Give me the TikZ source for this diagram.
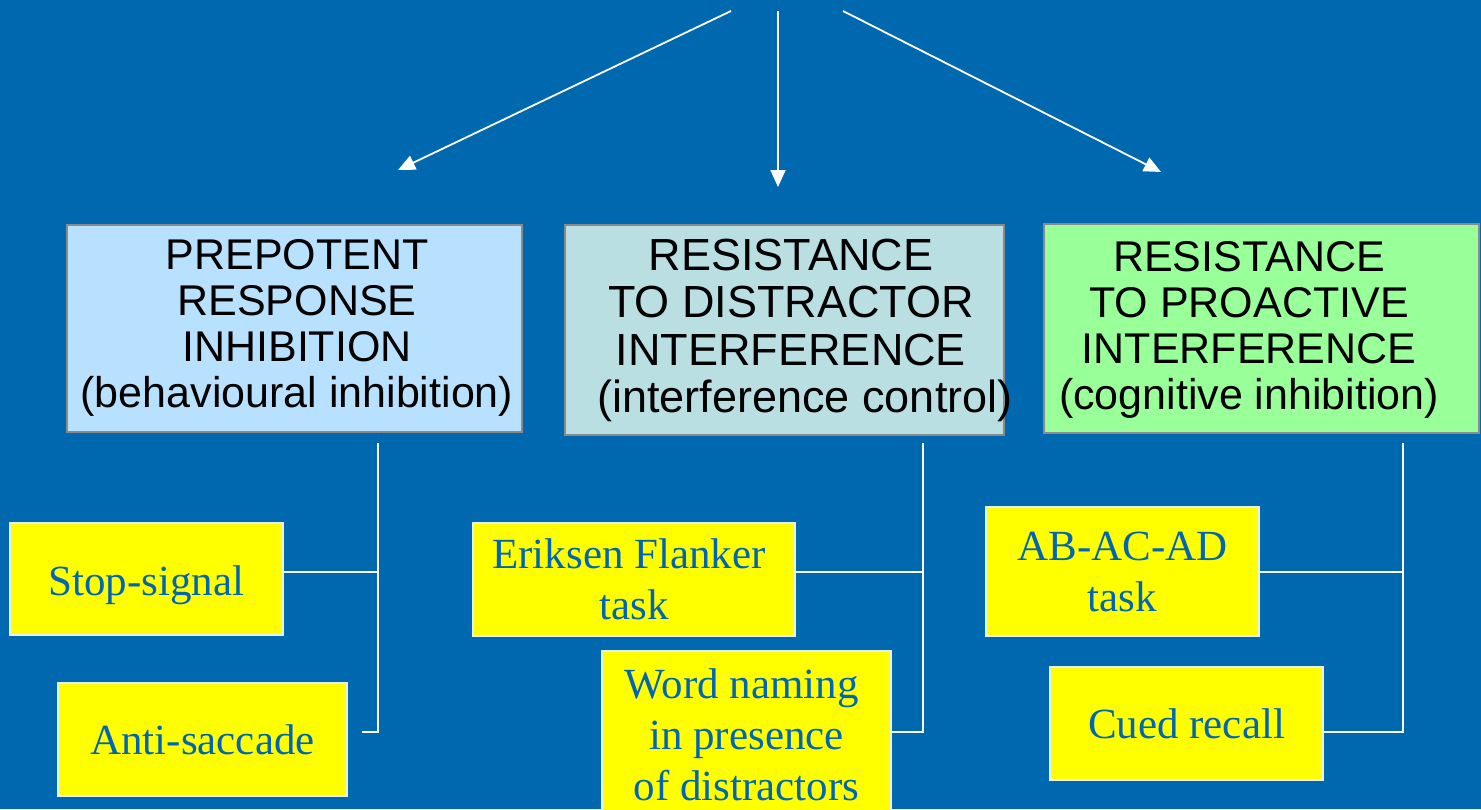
\documentclass[tikz,border=0pt]{standalone}
\usepackage{fontspec}
\setmainfont{Liberation Serif}
\newfontfamily\hdrfont{Liberation Sans}
\usetikzlibrary{arrows.meta}
\definecolor{bg}{HTML}{0068AF}
\definecolor{hdrgray}{HTML}{8A8A8A}
\definecolor{hcolA}{HTML}{B7E1FF}
\definecolor{hcolB}{HTML}{B9DFE3}
\definecolor{hcolC}{HTML}{99FF99}
\definecolor{ytext}{HTML}{0066B3}
\definecolor{yfill}{HTML}{FFFF00}
\begin{document}
\begin{tikzpicture}[x=0.5pt,y=-0.5pt,
  hdrbox/.style={draw=hdrgray, line width=1pt, inner sep=0pt},
  hdrtext/.style={inner sep=0pt, align=center, text=black,
    font=\hdrfont\fontsize{21.5}{23}\selectfont},
  taskbox/.style={draw=white!90!bg, line width=1pt, fill=yfill, inner sep=0pt,
    align=center, text=ytext, font=\fontsize{21.5}{25.5}\selectfont},
  conn/.style={draw=white, line width=0.8pt},
  arr/.style={draw=white, line width=0.9pt, -{Triangle[length=8.5pt,width=7.5pt]}}]
\fill[bg] (0,0) rectangle (1481,809);
\useasboundingbox (0,0) rectangle (1481,809);

% header boxes
\node[hdrbox, fill=hcolA, minimum width=227.5pt, minimum height=103.5pt] (h1) at (294.5,328.5) {};
\node[hdrbox, fill=hcolB, minimum width=219.5pt, minimum height=105pt] (h2) at (784.5,330) {};
\node[hdrbox, fill=hcolC, minimum width=217.5pt, minimum height=104.5pt] (h3) at (1261.5,328.5) {};

\node[hdrtext] (t1) at (297,328) {PREPOTENT\\RESPONSE\\INHIBITION\\(behavioural inhibition)};
\node[hdrtext, font=\hdrfont\fontsize{22.5}{23.7}\selectfont] (t2) at (791,330.5)
  {RESISTANCE\\TO DISTRACTOR\\INTERFERENCE\\\hspace*{14pt}(interference control)};
\node[hdrtext] (t3) at (1249,329.5) {RESISTANCE\\TO PROACTIVE\\INTERFERENCE\\(cognitive inhibition)};

% task boxes
\node[taskbox, minimum width=136.5pt, minimum height=56pt] (y1) at (146.5,579) {\raisebox{-3pt}[\height][\depth]{Stop-signal}};
\node[taskbox, minimum width=144.5pt, minimum height=56.5pt] (y2) at (202.5,739.5) {Anti-saccade};
\node[taskbox, minimum width=161pt, minimum height=56.5pt] (y3) at (634,579.5) {Eriksen Flanker\hspace*{5pt}\\task};
\node[taskbox, minimum width=144.5pt, minimum height=84pt] (y4) at (746.5,735) {Word naming\hspace*{5pt}\\in presence\hspace*{5pt}\\of distractors};
\node[taskbox, minimum width=136.5pt, minimum height=64.5pt] (y5) at (1122.5,571.5) {AB-AC-AD\\task};
\node[taskbox, minimum width=136.5pt, minimum height=56.5pt] (y6) at (1186.5,723.5) {Cued recall};

% bracket connectors
\coordinate (v1t) at (378,443); \coordinate (v1b) at (378,732);
\coordinate (j1) at (378,572);  \coordinate (e1) at (362,732);
\draw[conn] (v1t) -- (v1b) -- (e1);
\draw[conn] (j1) -- (j1 -| y1.east);

\coordinate (v2t) at (923,443); \coordinate (v2b) at (923,732);
\coordinate (j2) at (923,572);
\draw[conn] (v2t) -- (v2b) -- (v2b -| y4.east);
\draw[conn] (j2) -- (j2 -| y3.east);

\coordinate (v3t) at (1403,443); \coordinate (v3b) at (1403,732);
\coordinate (j3) at (1403,572);
\draw[conn] (v3t) -- (v3b) -- (v3b -| y6.east);
\draw[conn] (j3) -- (j3 -| y5.east);

% top arrows
\coordinate (s1) at (731,11); \coordinate (a1) at (398,170);
\coordinate (s2) at (778,11); \coordinate (a2) at (778,187);
\coordinate (s3) at (843,11); \coordinate (a3) at (1161,172);
\draw[arr] (s1) -- (a1);
\draw[arr] (s2) -- (a2);
\draw[arr] (s3) -- (a3);
\end{tikzpicture}
\end{document}
